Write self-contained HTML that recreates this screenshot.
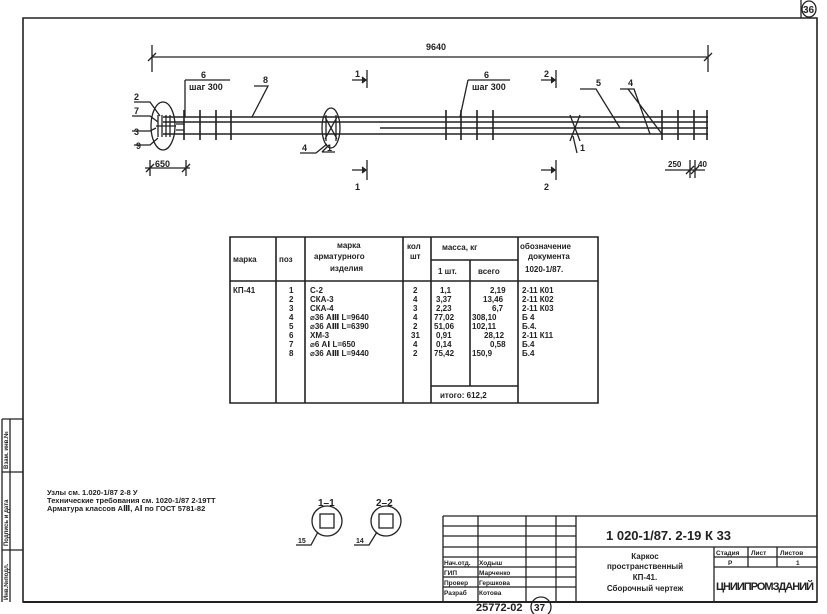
<!DOCTYPE html>
<html><head><meta charset="utf-8"><style>
html,body{margin:0;padding:0;background:#fff}
svg{display:block}
text{font-family:"Liberation Sans","DejaVu Sans",sans-serif;fill:#222;font-weight:bold}
</style></head><body>
<svg width="827" height="614" viewBox="0 0 827 614" xmlns="http://www.w3.org/2000/svg">
<g stroke="#222" fill="none" stroke-width="1.3">
<!-- frame -->
<path d="M23 18 H817 V602 H23 Z" stroke-width="1.6"/>
<path d="M801 0 V18"/>
<ellipse cx="809" cy="9" rx="7" ry="8"/>
<text x="803" y="13" font-size="10" font-weight="normal" stroke="none">36</text>
<!-- left strip -->
<path d="M2 419 H23 M2 419 V602 M2 472 H23 M2 550 H23 M10 419 V602"/>
<!-- dimension 9640 -->
<path d="M152 57 H708 M152 45 V72 M708 45 V72 M148 61 L156 53 M704 61 L712 53"/>
<!-- bars -->
<path d="M163 117 H708 M163 122 H708 M163 134 H708 M380 128 H708" stroke-width="1.6"/>
<!-- ellipses -->
<ellipse cx="163" cy="126" rx="12" ry="24"/>
<ellipse cx="331" cy="128" rx="9" ry="20"/>
<path d="M325 117 L337 139 M337 117 L325 139 M326 115 V141 M336 115 V141"/>
<path d="M570 115 L580 141 M580 115 L570 141"/>
<!-- stirrups -->
<path d="M184 110 V140 M200 110 V140 M216 110 V140 M231 110 V140
 M446 110 V140 M461 110 V140 M477 110 V140 M493 110 V140
 M662 110 V140 M678 110 V140 M694 110 V140 M707 110 V140" stroke-width="1.6"/>
<path d="M158 115 V137 M162 115 V137 M166 115 V137 M170 115 V137 M156 126 H176 M176 124 H184 M176 130 H184"/>
<!-- leaders -->
<path d="M134 102 H150 L160 116 M132 116 H150 L158 122 M132 131 H150 L156 128 M134 145 H150 L158 138
 M185 80 H230 M185 80 V117 M254 86 H268 L252 117 M468 80 H510 M468 80 L460 117
 M580 89 H596 L620 128 M620 89 H634 L650 134 M628 89 L662 134 M316 153 H300 M316 153 L327 144
 M322 152 H335 M322 152 L329 145 M577 153 L573 136"/>
<!-- 650 dim -->
<path d="M145 168 H190 M150 160 V176 M186 160 V176 M146 172 L154 164 M182 172 L190 164"/>
<!-- 250 40 -->
<path d="M665 170 H705 M690 160 V178 M695 160 V178 M686 174 L694 166 M691 174 L699 166"/>
<!-- sections -->
<path d="M367 70 V88 M352 80 H366 M367 160 V180 M352 170 H366 M556 70 V88 M541 80 H555 M556 160 V180 M541 170 H555"/>
<path d="M362 77 L366 80 L362 83 M362 167 L366 170 L362 173 M551 77 L555 80 L551 83 M551 167 L555 170 L551 173" fill="#222"/>
<!-- table -->
<path d="M230 237 H598 V403 H230 Z M230 281 H598 M276 237 V403 M305 237 V403 M403 237 V403 M431 237 V403 M518 237 V403 M431 260 H518 M470 260 V386 M431 386 H518" stroke-width="1.6"/>
<!-- section circles -->
<circle cx="327" cy="521" r="15"/><rect x="320" y="514" width="14" height="14"/>
<circle cx="386" cy="521" r="15"/><rect x="379" y="514" width="14" height="14"/>
<path d="M296 545 H311 L318 532 M354 545 H369 L377 532"/>
<!-- title block -->
<path d="M443 516 H817 M443 526 H576 M443 536 H576 M443 547 H817 M443 557 H576 M443 567 H576 M443 577 H576 M443 587 H576 M443 516 V602 M478 516 V602 M526 516 V602 M556 516 V602 M576 516 V602 M714 547 V602 M714 557 H817 M714 567 H817 M748 547 V567 M777 547 V567" stroke-width="1.3"/>
<path d="M23 602 H817" stroke-width="2"/>
<circle cx="541" cy="607" r="10"/>
</g>
<g stroke="none">
<text x="426" y="50" font-size="9">9640</text>
<text x="201" y="78" font-size="9">6</text>
<text x="189" y="90" font-size="9">шаг 300</text>
<text x="263" y="83" font-size="9">8</text>
<text x="484" y="78" font-size="9">6</text>
<text x="472" y="90" font-size="9">шаг 300</text>
<text x="596" y="86" font-size="9">5</text>
<text x="628" y="86" font-size="9">4</text>
<text x="134" y="100" font-size="9">2</text>
<text x="134" y="114" font-size="9">7</text>
<text x="134" y="135" font-size="9">3</text>
<text x="136" y="149" font-size="9">9</text>
<text x="155" y="167" font-size="9">650</text>
<text x="668" y="167" font-size="8">250</text>
<text x="698" y="167" font-size="8">40</text>
<text x="302" y="151" font-size="9">4</text>
<text x="327" y="151" font-size="9">1</text>
<text x="580" y="151" font-size="9">1</text>
<text x="355" y="77" font-size="9">1</text>
<text x="355" y="190" font-size="9">1</text>
<text x="544" y="77" font-size="9">2</text>
<text x="544" y="190" font-size="9">2</text>
<g font-size="8">
<text x="233" y="262">марка</text><text x="279" y="262">поз</text>
<text x="337" y="248">марка</text><text x="314" y="259">арматурного</text><text x="330" y="271">изделия</text>
<text x="407" y="249">кол</text><text x="410" y="259">шт</text>
<text x="442" y="250">масса, кг</text><text x="438" y="274">1 шт.</text><text x="478" y="274">всего</text>
<text x="520" y="249">обозначение</text><text x="528" y="259">документа</text><text x="525" y="272">1020-1/87.</text>
<text x="233" y="293">КП-41</text>
</g>
<g font-size="8" font-weight="normal">
<text x="289" y="293">1</text><text x="289" y="302">2</text><text x="289" y="311">3</text><text x="289" y="320">4</text><text x="289" y="329">5</text><text x="289" y="338">6</text><text x="289" y="347">7</text><text x="289" y="356">8</text>
<text x="310" y="293">С-2</text><text x="310" y="302">СКА-3</text><text x="310" y="311">СКА-4</text><text x="310" y="320">⌀36 АⅢ   L=9640</text><text x="310" y="329">⌀36 АⅢ   L=6390</text><text x="310" y="338">ХМ-3</text><text x="310" y="347">⌀6 АⅠ      L=650</text><text x="310" y="356">⌀36 АⅢ   L=9440</text>
<text x="413" y="293">2</text><text x="413" y="302">4</text><text x="413" y="311">3</text><text x="413" y="320">4</text><text x="413" y="329">2</text><text x="411" y="338">31</text><text x="413" y="347">4</text><text x="413" y="356">2</text>
<text x="440" y="293">1,1</text><text x="436" y="302">3,37</text><text x="436" y="311">2,23</text><text x="434" y="320">77,02</text><text x="434" y="329">51,06</text><text x="436" y="338">0,91</text><text x="436" y="347">0,14</text><text x="434" y="356">75,42</text>
<text x="490" y="293">2,19</text><text x="483" y="302">13,46</text><text x="492" y="311">6,7</text><text x="472" y="320">308,10</text><text x="472" y="329">102,11</text><text x="484" y="338">28,12</text><text x="490" y="347">0,58</text><text x="472" y="356">150,9</text>
<text x="522" y="293">2-11  К01</text><text x="522" y="302">2-11  К02</text><text x="522" y="311">2-11  К03</text><text x="522" y="320">Б 4</text><text x="522" y="329">Б.4.</text><text x="522" y="338">2-11  К11</text><text x="522" y="347">Б.4</text><text x="522" y="356">Б.4</text>
<text x="440" y="398">итого: 612,2</text>
</g>
<g font-size="7.5">
<text x="47" y="495">Узлы см. 1.020-1/87 2-8 У</text>
<text x="47" y="503">Технические требования см. 1020-1/87 2-19ТТ</text>
<text x="47" y="511">Арматура классов АⅢ, АⅠ по ГОСТ 5781-82</text>
<text x="318" y="506" font-size="10">1–1</text>
<text x="376" y="506" font-size="10">2–2</text>
<text x="298" y="543" font-size="7">15</text>
<text x="356" y="543" font-size="7">14</text>
</g>
<text x="606" y="540" font-size="13" font-weight="normal">1  020-1/87. 2-19  К 33</text>
<g font-size="6.5" font-weight="normal">
<text x="444" y="565">Нач.отд.</text><text x="479" y="565">Ходыш</text>
<text x="444" y="575">ГИП</text><text x="479" y="575">Марченко</text>
<text x="444" y="585">Провер</text><text x="479" y="585">Гершкова</text>
<text x="444" y="595">Разраб</text><text x="479" y="595">Котова</text>
<text x="716" y="555">Стадия</text><text x="751" y="555">Лист</text><text x="780" y="555">Листов</text>
<text x="728" y="565">Р</text><text x="796" y="565">1</text>
</g>
<g font-size="8" font-weight="normal" text-anchor="middle">
<text x="645" y="559">Каркос</text>
<text x="645" y="569">пространственный</text>
<text x="645" y="580">КП-41.</text>
<text x="645" y="591">Сборочный чертеж</text>
</g>
<text x="716" y="590" font-size="11" font-weight="normal" textLength="98">ЦНИИПРОМЗДАНИЙ</text>
<text x="476" y="611" font-size="11" font-weight="normal">25772-02</text>
<text x="534" y="611" font-size="10" font-weight="normal">37</text>
<g font-size="6" font-weight="normal">
<text transform="translate(8,600) rotate(-90)">Инв.№подл.</text>
<text transform="translate(8,546) rotate(-90)">Подпись и дата</text>
<text transform="translate(8,469) rotate(-90)">Взам. инв.№</text>
</g>
</g>
</svg>
</body></html>
